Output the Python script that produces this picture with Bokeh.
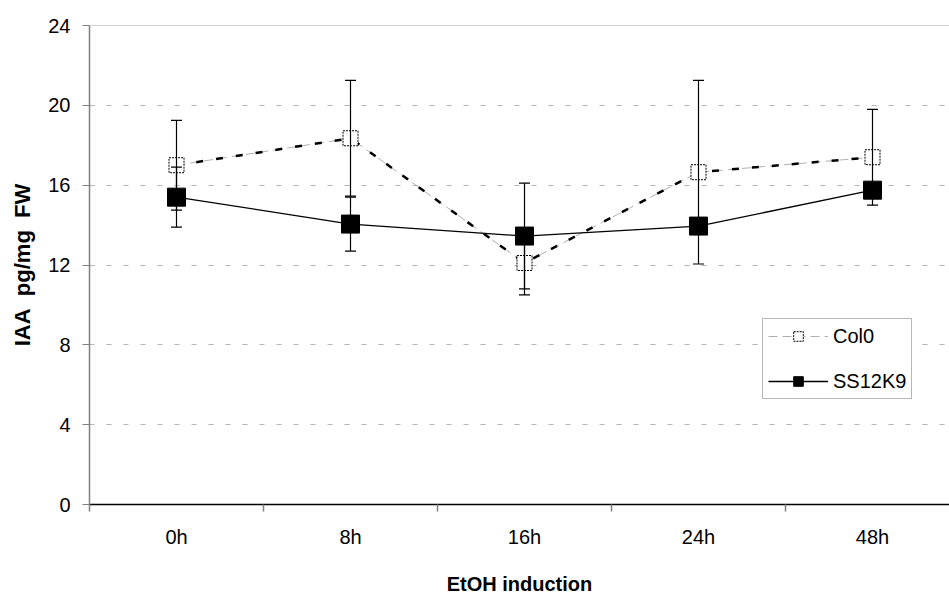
from bokeh.plotting import figure
from bokeh.models import (Range1d, FixedTicker, Whisker, ColumnDataSource, Span,
                          Legend, LegendItem, TeeHead)
from bokeh.embed import file_html
from bokeh.resources import INLINE

# ---- data ----
categories = ["0h", "8h", "16h", "24h", "48h"]
col0_mean = [17.0, 18.35, 12.1, 16.65, 17.4]
col0_err = [2.25, 2.9, 1.6, 4.6, 2.4]
ss_mean = [15.4, 14.05, 13.45, 13.95, 15.75]
ss_err = [1.5, 1.35, 2.65, 0.4, 0.35]
y_ticks = [0, 4, 8, 12, 16, 20, 24]

xpos = list(range(len(categories)))

src_col0 = ColumnDataSource(dict(
    x=xpos, y=col0_mean,
    lo=[m - e for m, e in zip(col0_mean, col0_err)],
    hi=[m + e for m, e in zip(col0_mean, col0_err)]))
src_ss = ColumnDataSource(dict(
    x=xpos, y=ss_mean,
    lo=[m - e for m, e in zip(ss_mean, ss_err)],
    hi=[m + e for m, e in zip(ss_mean, ss_err)]))

FONT = "Liberation Sans"

p = figure(width=949, height=597, output_backend="svg", toolbar_location=None,
           x_range=Range1d(-0.5, -0.5 + 860 / 174), y_range=Range1d(0, 24),
           min_border_left=89, min_border_right=0, min_border_top=25,
           min_border_bottom=92)
p.outline_line_color = None
p.background_fill_color = "white"
p.border_fill_color = "white"

# grid
p.xgrid.grid_line_color = None
p.ygrid.ticker = FixedTicker(ticks=y_ticks[1:-1])
p.ygrid.grid_line_color = "#b4b4b4"
p.ygrid.grid_line_dash = "5 12"
p.ygrid.grid_line_width = 1
p.add_layout(Span(location=y_ticks[-1], dimension="width",
                  line_color="#a8a8a8", line_width=1.2))

# x axis
xa = p.xaxis[0]
xa.ticker = FixedTicker(ticks=xpos, minor_ticks=[i - 0.5 for i in xpos])
xa.major_label_overrides = {i: c for i, c in enumerate(categories)}
xa.major_tick_out = 0
xa.major_tick_in = 0
xa.minor_tick_out = 7
xa.minor_tick_in = 0
xa.minor_tick_line_color = "#808080"
xa.minor_tick_line_width = 1.5
xa.axis_line_color = "black"
xa.axis_line_width = 1.5
xa.major_label_text_font = FONT
xa.major_label_text_font_size = "20px"
xa.major_label_text_color = "black"
xa.major_label_standoff = 14
xa.axis_label = "EtOH induction"
xa.axis_label_text_font = FONT
xa.axis_label_text_font_style = "bold"
xa.axis_label_text_font_size = "20px"
xa.axis_label_text_color = "black"
xa.axis_label_standoff = 22

# y axis
ya = p.yaxis[0]
ya.ticker = FixedTicker(ticks=y_ticks)
ya.minor_tick_line_color = None
ya.major_tick_out = 7
ya.major_tick_in = 0
ya.major_tick_line_color = "#808080"
ya.major_tick_line_width = 1.2
ya.axis_line_color = "#808080"
ya.axis_line_width = 1.5
ya.major_label_text_font = FONT
ya.major_label_text_font_size = "20px"
ya.major_label_text_color = "black"
ya.major_label_standoff = 12
ya.axis_label = "IAA\u00a0\u00a0pg/mg\u00a0\u00a0FW"
ya.axis_label_text_font = FONT
ya.axis_label_text_font_style = "bold"
ya.axis_label_text_font_size = "22px"
ya.axis_label_text_color = "black"
ya.axis_label_standoff = 10

# error bars
for src in (src_col0, src_ss):
    w = Whisker(source=src, base="x", lower="lo", upper="hi",
                line_color="black", line_width=1.2,
                upper_head=TeeHead(size=11, line_color="black", line_width=1.2),
                lower_head=TeeHead(size=11, line_color="black", line_width=1.2),
                level="glyph")
    p.add_layout(w)

# Col0 lines
col0_thin = p.line("x", "y", source=src_col0, line_color="#b0b0b0",
                   line_width=1, line_dash="9 5")
col0_dash = p.line("x", "y", source=src_col0, line_color="black",
                   line_width=2.5, line_dash="7 13")
# SS12K9 line
ss_line = p.line("x", "y", source=src_ss, line_color="black", line_width=1.3)

# markers
col0_mk = p.scatter("x", "y", source=src_col0, marker="square", size=15,
                    fill_color="white", line_color="black", line_width=1,
                    line_dash="2 1")
ss_mk = p.scatter("x", "y", source=src_ss, marker="square", size=18,
                  fill_color="black", line_color="black")

legend = Legend(items=[
    LegendItem(label="Col0", renderers=[col0_thin, col0_mk]),
    LegendItem(label="SS12K9", renderers=[ss_line, ss_mk]),
], location=(673, 105))
legend.label_text_font = FONT
legend.label_text_font_size = "20px"
legend.label_text_color = "black"
legend.glyph_width = 60
legend.glyph_height = 24
legend.label_height = 24
legend.spacing = 21
legend.padding = 5
legend.margin = 0
legend.label_standoff = 5
legend.border_line_color = "#707070"
legend.border_line_width = 1.5
legend.background_fill_color = "white"
legend.background_fill_alpha = 1
p.add_layout(legend, "center")

open("out.html", "w").write(file_html(p, INLINE))
